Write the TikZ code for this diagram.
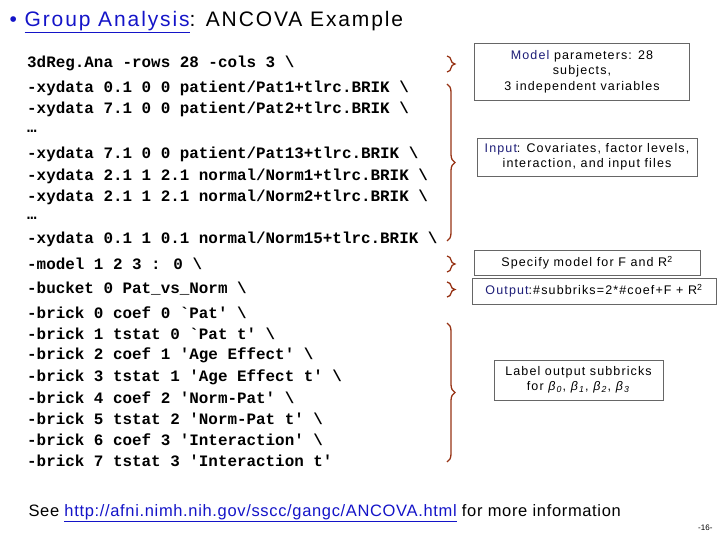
\documentclass[tikz,border=0pt]{standalone}
\usepackage{fontspec}
\setmainfont{Liberation Sans}
\newfontfamily\codefont{Liberation Mono}
\newfontfamily\widefont[LetterSpace=9]{Liberation Sans}
\newfontfamily\footfont[LetterSpace=4]{Liberation Sans}
\usetikzlibrary{decorations.pathreplacing}
\definecolor{linkblue}{RGB}{20,20,200}
\definecolor{darkblue}{RGB}{30,30,120}
\definecolor{brbrown}{RGB}{150,50,20}
\newcommand{\bsub}[1]{\textit{β}\textsubscript{\textit{#1}}}
\tikzset{
  code/.style={anchor=west,inner sep=0pt,font=\codefont\bfseries\fontsize{15.9}{16}\selectfont},
  note/.style={draw=gray!80!black,fill=white,align=center,inner sep=3pt,font=\widefont\fontsize{12.5}{15.5}\selectfont},
  br/.style={draw=brbrown,line width=1.3pt,decorate,decoration={brace,amplitude=8pt}}
}
\begin{document}
\begin{tikzpicture}[x=1pt,y=-1pt]
\useasboundingbox (0,0) rectangle (720,540);
\node[anchor=west,font=\widefont\fontsize{21}{24}\selectfont] (title) at (6,22) {\textcolor{linkblue}{\textbullet}\ \textcolor{linkblue}{\underline{Group Analysis}}: ANCOVA Example};
\foreach \t/\y [count=\i] in {
 {3dReg.Ana -rows 28 -cols 3 \textbackslash}/63,
 {-xydata 0.1 0 0 patient/Pat1+tlrc.BRIK \textbackslash}/88,
 {-xydata 7.1 0 0 patient/Pat2+tlrc.BRIK \textbackslash}/109,
 {…}/131,
 {-xydata 7.1 0 0 patient/Pat13+tlrc.BRIK \textbackslash}/154,
 {-xydata 2.1 1 2.1 normal/Norm1+tlrc.BRIK \textbackslash}/176,
 {-xydata 2.1 1 2.1 normal/Norm2+tlrc.BRIK \textbackslash}/197,
 {…}/218,
 {-xydata 0.1 1 0.1 normal/Norm15+tlrc.BRIK \textbackslash}/239,
 {-model 1 2 3 : 0 \textbackslash}/264,
 {-bucket 0 Pat\_vs\_Norm \textbackslash}/289,
 {-brick 0 coef 0 `Pat' \textbackslash}/313,
 {-brick 1 tstat 0 `Pat t' \textbackslash}/334,
 {-brick 2 coef 1 'Age Effect' \textbackslash}/355,
 {-brick 3 tstat 1 'Age Effect t' \textbackslash}/377,
 {-brick 4 coef 2 'Norm-Pat' \textbackslash}/398,
 {-brick 5 tstat 2 'Norm-Pat t' \textbackslash}/419,
 {-brick 6 coef 3 'Interaction' \textbackslash}/440,
 {-brick 7 tstat 3 'Interaction t'}/461}
 \node[code] (c\i) at (27,\y) {\t};
\draw[br] (447,56) -- (447,72) coordinate (b1);
\draw[br] (447,84) -- (447,241) coordinate (b2);
\draw[br] (447,256) -- (447,272) coordinate (b3);
\draw[br] (447,282) -- (447,297) coordinate (b4);
\draw[br] (447,323) -- (447,462) coordinate (b5);
\node[note,minimum width=215,minimum height=57] (n1) at (582,71.5) {\textcolor{darkblue}{Model} parameters: 28\\subjects,\\3 independent variables};
\node[note,minimum width=220,minimum height=38] (n2) at (587,157) {\textcolor{darkblue}{Input}: Covariates, factor levels,\\interaction, and input files};
\node[note,minimum width=226,minimum height=25] (n3) at (587,262.5) {Specify model for F and R\textsuperscript{2}};
\node[note,minimum width=244,minimum height=26] (n4) at (594,291) {\textcolor{darkblue}{Output}:\#subbriks=2*\#coef+F + R\textsuperscript{2}};
\node[note,minimum width=169,minimum height=40] (n5) at (578.5,380) {Label output subbricks\\for \bsub{0}, \bsub{1}, \bsub{2}, \bsub{3}};
\node[anchor=west,font=\footfont\fontsize{16.5}{18}\selectfont] (foot) at (25,513) {See \textcolor{linkblue}{\underline{http://afni.nimh.nih.gov/sscc/gangc/ANCOVA.html}} for more information};
\node[anchor=east,font=\fontsize{8}{10}\selectfont] (pg) at (716,528) {-16-};
\end{tikzpicture}
\end{document}
